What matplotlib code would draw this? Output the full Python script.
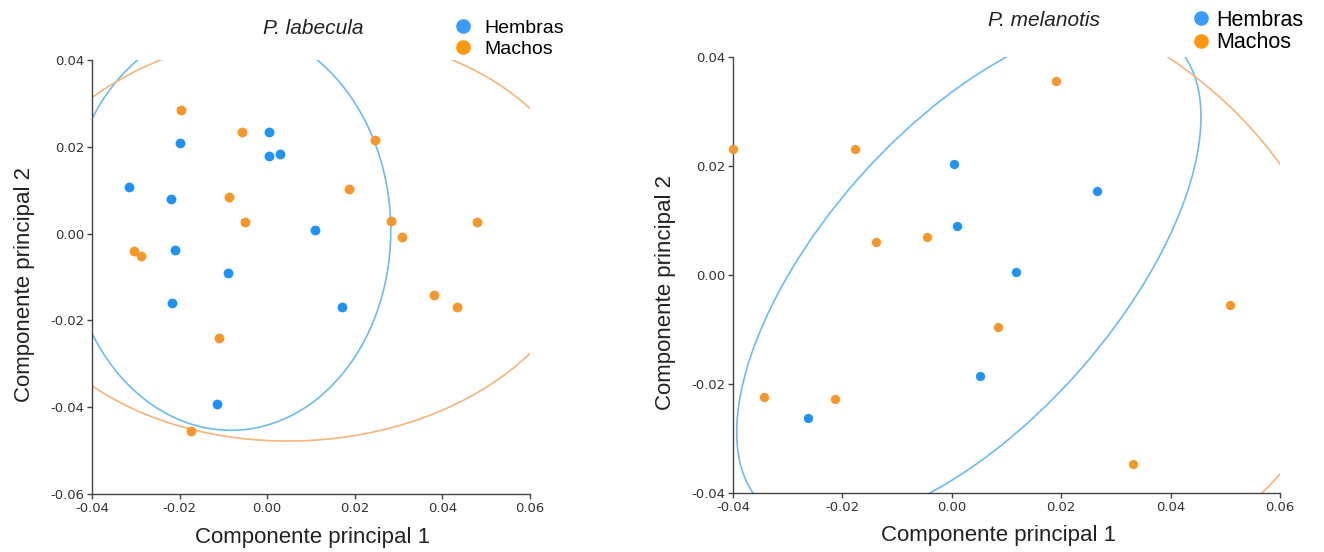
import numpy as np
import matplotlib
matplotlib.use('Agg')
import matplotlib.pyplot as plt
from matplotlib.patches import Ellipse
from matplotlib.lines import Line2D

plt.rcParams['axes.unicode_minus'] = False

# P. labecula - PCA scores
lab_hembras_x = [-0.0315, -0.0219, -0.0198, -0.0211, -0.0089, 0.0005, 0.0004, 0.0030, 0.0110, -0.0218, 0.0170, -0.0114]
lab_hembras_y = [0.0107, 0.0079, 0.0208, -0.0038, -0.0090, 0.0235, 0.0179, 0.0184, 0.0009, -0.0160, -0.0169, -0.0393]
lab_machos_x = [-0.0196, -0.0057, 0.0245, 0.0186, -0.0087, -0.0051, 0.0282, 0.0308, 0.0478, -0.0304, -0.0287, 0.0380, 0.0433, -0.0110, -0.0173]
lab_machos_y = [0.0284, 0.0234, 0.0215, 0.0103, 0.0085, 0.0027, 0.0028, -0.0008, 0.0026, -0.0041, -0.0052, -0.0141, -0.0168, -0.0241, -0.0455]

# P. melanotis
mel_hembras_x = [0.0004, 0.0266, 0.0009, 0.0118, 0.0052, -0.0262]
mel_hembras_y = [0.0203, 0.0154, 0.0089, 0.0006, -0.0185, -0.0263]
mel_machos_x = [-0.0400, -0.0177, 0.0190, -0.0139, -0.0046, 0.0508, 0.0084, -0.0344, -0.0214, 0.0332]
mel_machos_y = [0.0232, 0.0232, 0.0356, 0.0061, 0.0069, -0.0055, -0.0095, -0.0224, -0.0228, -0.0346]

lab_xticks = [-0.04, -0.02, 0.00, 0.02, 0.04, 0.06]
lab_yticks = [-0.06, -0.04, -0.02, 0.00, 0.02, 0.04]
mel_xticks = [-0.04, -0.02, 0.00, 0.02, 0.04, 0.06]
mel_yticks = [-0.04, -0.02, 0.00, 0.02, 0.04]

col_h = '#1f93f5'
col_m = '#f5972a'
col_h_ell = '#6bbcf2'
col_m_ell = '#f5b57a'

W, H = 1324, 552


def px(x, y):
    # pixel position (from top-left) -> figure fraction
    return x / W, 1 - y / H


def conf_ellipse(ax, x, y, color):
    # 95% normal data ellipse
    x = np.asarray(x)
    y = np.asarray(y)
    cov = np.cov(x, y)
    vals, vecs = np.linalg.eigh(cov)
    order = vals.argsort()[::-1]
    vals, vecs = vals[order], vecs[:, order]
    angle = np.degrees(np.arctan2(vecs[1, 0], vecs[0, 0]))
    k = np.sqrt(5.991)
    w, h = 2 * k * np.sqrt(vals)
    e = Ellipse((x.mean(), y.mean()), w, h, angle=angle, fill=False,
                edgecolor=color, lw=1.2, zorder=1)
    ax.add_patch(e)


def style_ax(ax, xlim, ylim, xticks, yticks):
    ax.set_xlim(xlim)
    ax.set_ylim(ylim)
    ax.set_xticks(xticks)
    ax.set_yticks(yticks)
    ax.set_xticklabels([f'{t:.2f}' for t in xticks])
    ax.set_yticklabels([f'{t:.2f}' for t in yticks])
    for s in ['top', 'right']:
        ax.spines[s].set_visible(False)
    for s in ['left', 'bottom']:
        ax.spines[s].set_color('#444444')
        ax.spines[s].set_linewidth(1.0)
    ax.tick_params(direction='out', length=3.5, width=1.0, color='#444444',
                   labelsize=9.5, labelcolor='#333333', pad=2)


fig = plt.figure(figsize=(W / 100, H / 100), dpi=100)

ax1 = fig.add_axes([92 / W, 1 - 494 / H, 438 / W, 434 / H])
ax2 = fig.add_axes([733 / W, 1 - 493 / H, 547 / W, 436 / H])

# left panel
conf_ellipse(ax1, lab_hembras_x, lab_hembras_y, col_h_ell)
conf_ellipse(ax1, lab_machos_x, lab_machos_y, col_m_ell)
ax1.scatter(lab_hembras_x, lab_hembras_y, s=50, color=col_h, lw=0, zorder=3, clip_on=False)
ax1.scatter(lab_machos_x, lab_machos_y, s=50, color=col_m, lw=0, zorder=3, clip_on=False)
style_ax(ax1, (-0.04, 0.06), (-0.06, 0.04), lab_xticks, lab_yticks)

# right panel
conf_ellipse(ax2, mel_hembras_x, mel_hembras_y, col_h_ell)
conf_ellipse(ax2, mel_machos_x, mel_machos_y, col_m_ell)
ax2.scatter(mel_hembras_x, mel_hembras_y, s=45, color=col_h, lw=0, zorder=3, clip_on=False)
ax2.scatter(mel_machos_x, mel_machos_y, s=45, color=col_m, lw=0, zorder=3, clip_on=False)
style_ax(ax2, (-0.04, 0.06), (-0.04, 0.04), mel_xticks, mel_yticks)

# titles
fig.text(*px(313, 29), 'P. labecula', style='italic', fontsize=15,
         family='Liberation Sans', color='#222222', ha='center', va='center')
fig.text(*px(1044, 20), 'P. melanotis', style='italic', fontsize=15,
         family='Liberation Sans', color='#222222', ha='center', va='center')

# axis labels
lab_kw = dict(fontsize=16, family='Liberation Sans', color='#222222', ha='center', va='center')
fig.text(*px(313, 538), 'Componente principal 1', **lab_kw)
fig.text(*px(25, 284), 'Componente principal 2', rotation=90, **lab_kw)
fig.text(*px(999, 535), 'Componente principal 1', **lab_kw)
fig.text(*px(666, 293), 'Componente principal 2', rotation=90, **lab_kw)

# legends
handles = [Line2D([], [], ls='', marker='o', markersize=9.5, color='#3a9cff'),
           Line2D([], [], ls='', marker='o', markersize=9.5, color='#ff980f')]
labels = ['Hembras', 'Machos']
fig.legend(handles, labels, loc='upper left', bbox_to_anchor=px(453, 19),
           frameon=False, borderpad=0, handlelength=1.0, handletextpad=0.6,
           labelspacing=0.2, borderaxespad=0,
           prop={'family': 'Liberation Sans', 'size': 14})
fig.legend(handles, labels, loc='upper left', bbox_to_anchor=px(1195, 10),
           frameon=False, borderpad=0, handlelength=0.6, handletextpad=0.4,
           labelspacing=0.05, borderaxespad=0,
           prop={'family': 'Liberation Sans', 'size': 15.5})

fig.savefig('out.png', dpi=100, facecolor='white')
